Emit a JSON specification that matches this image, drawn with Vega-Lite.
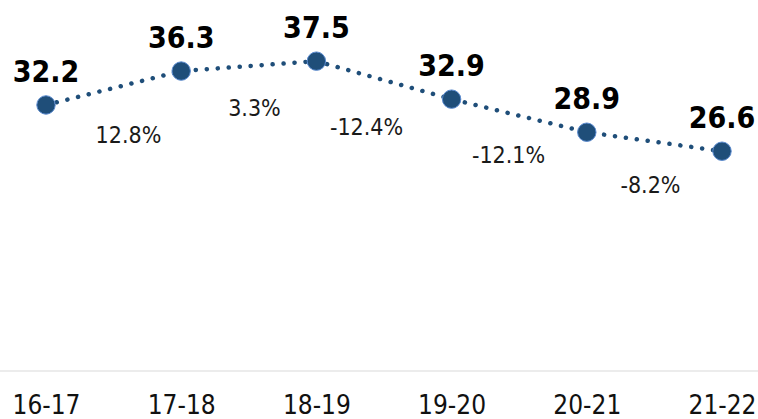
{
  "$schema": "https://vega.github.io/schema/vega-lite/v6.json",
  "autosize": "none",
  "padding": {"left": 0, "top": 0, "right": 0, "bottom": 48},
  "width": 758,
  "height": 371,
  "background": "white",
  "config": {"view": {"stroke": null}},
  "datasets": {
    "main": [
      {"season": "16-17", "value": 32.2},
      {"season": "17-18", "value": 36.3},
      {"season": "18-19", "value": 37.5},
      {"season": "19-20", "value": 32.9},
      {"season": "20-21", "value": 28.9},
      {"season": "21-22", "value": 26.6}
    ],
    "changes": [
      {"pos": 0.61, "ly": 27.6, "change": "12.8%"},
      {"pos": 1.542, "ly": 30.86, "change": "3.3%"},
      {"pos": 2.371, "ly": 28.56, "change": "-12.4%"},
      {"pos": 3.421, "ly": 25.17, "change": "-12.1%"},
      {"pos": 4.471, "ly": 21.54, "change": "-8.2%"}
    ]
  },
  "layer": [
    {
      "data": {"values": [{"base": 0}]},
      "mark": {"type": "rule", "color": "#d9d9d9", "strokeWidth": 1},
      "encoding": {
        "y": {"field": "base", "type": "quantitative", "scale": {"domain": [0, 44.9], "nice": false, "zero": true}, "axis": null}
      }
    },
    {
      "data": {"name": "main"},
      "layer": [
        {
          "mark": {"type": "line", "color": "#1F4E79", "strokeWidth": 4.5, "strokeDash": [0.1, 10.9], "strokeCap": "round"},
          "encoding": {}
        },
        {
          "mark": {"type": "point", "shape": "circle", "filled": true, "size": 340, "fill": "#1F4E79", "stroke": "#5B8BD0", "strokeWidth": 1, "opacity": 1},
          "encoding": {}
        },
        {
          "mark": {"type": "text", "font": "DejaVu Sans Condensed", "fontWeight": "bold", "fontSize": 30, "color": "#000000", "align": "center", "baseline": "alphabetic", "dy": -23},
          "encoding": {"text": {"field": "value", "type": "quantitative", "format": ".1f"}}
        }
      ],
      "encoding": {
        "x": {
          "field": "season", "type": "ordinal", "sort": null,
          "scale": {"type": "point", "range": [46, 722], "padding": 0},
          "axis": {"title": null, "domain": false, "ticks": false, "grid": false, "labelAngle": 0, "labelFont": "DejaVu Sans Condensed", "labelFontSize": 26, "labelColor": "#111111", "labelBaseline": "bottom", "labelPadding": 47}
        },
        "y": {"field": "value", "type": "quantitative", "scale": {"domain": [0, 44.9], "nice": false}, "axis": null}
      }
    },
    {
      "data": {"name": "changes"},
      "mark": {"type": "text", "font": "DejaVu Sans Condensed", "fontSize": 23, "color": "#1a1a1a", "align": "center", "baseline": "alphabetic"},
      "encoding": {
        "x": {"field": "pos", "type": "quantitative", "scale": {"domain": [-0.34, 5.266], "nice": false, "zero": false}, "axis": null},
        "y": {"field": "ly", "type": "quantitative", "scale": {"domain": [0, 44.9], "nice": false}, "axis": null},
        "text": {"field": "change", "type": "nominal"}
      }
    }
  ],
  "resolve": {"scale": {"x": "independent"}}
}
